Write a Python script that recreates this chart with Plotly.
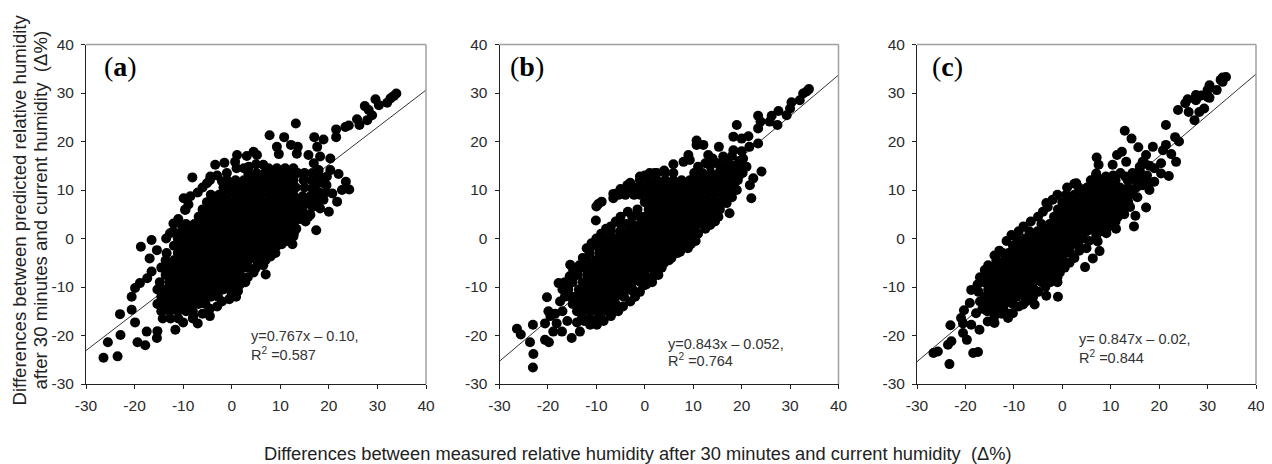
import plotly.graph_objects as go

line_x = [-30, 40]
a_line_y = [-23.1, 30.6]
b_line_y = [-25.3, 33.7]
c_line_y = [-25.4, 33.9]

tick_x = [-30, -20, -10, 0, 10, 20, 30, 40]
tick_y = [-30, -20, -10, 0, 10, 20, 30, 40]
tick_labels = ["-30", "-20", "-10", "0", "10", "20", "30", "40"]
panel_labels = ["(<b>a</b>)", "(<b>b</b>)", "(<b>c</b>)"]
eq1 = ["y=0.767x \u2013 0.10,", "y=0.843x \u2013 0.052,", "y= 0.847x \u2013 0.02,"]
eq2 = ["R<sup>2</sup> =0.587", "R<sup>2</sup> =0.764", "R<sup>2</sup> =0.844"]

# dense core of each cloud, read row by row
a_core_y = [14.5,13.5,12,10.5,9,7.5,6,4.5,3,1.5,0,-1.5,-3,-4.5,-6,-7.5,-9,-10.5,-12,-13.5,-15,-16.5]
a_core_x = [
 [7.6,9.3,11,12.7],
 [3.4,5.1,6.8,8.5,10.2,11.9,13.6],
 [-0.9,0.8,2.5,4.2,5.9,7.6,9.3,11,12.7],
 [-1.7,0,1.7,3.4,5.1,6.8,8.5,10.2,11.9,13.2],
 [-4.3,-2.6,-0.9,0.8,2.5,4.2,5.9,7.6,9.3,11,12.7],
 [-5.1,-3.4,-1.7,0,1.7,3.4,5.1,6.8,8.5,10.2,11.9,13.6],
 [-6,-4.3,-2.6,-0.9,0.8,2.5,4.2,5.9,7.6,9.3,11,12.7,14],
 [-6.8,-5.1,-3.4,-1.7,0,1.7,3.4,5.1,6.8,8.5,10.2,11.9,13.2],
 [-9.4,-7.7,-6,-4.3,-2.6,-0.9,0.8,2.5,4.2,5.9,7.6,9.3,11,12.7],
 [-10.2,-8.5,-6.8,-5.1,-3.4,-1.7,0,1.7,3.4,5.1,6.8,8.5,10.2,11.9],
 [-11.1,-9.4,-7.7,-6,-4.3,-2.6,-0.9,0.8,2.5,4.2,5.9,7.6,9.3,11],
 [-11.9,-10.2,-8.5,-6.8,-5.1,-3.4,-1.7,0,1.7,3.4,5.1,6.8,8.5],
 [-13.4,-11.1,-9.4,-7.7,-6,-4.3,-2.6,-0.9,0.8,2.5,4.2,5.9,7],
 [-13.6,-11.9,-10.2,-8.5,-6.8,-5.1,-3.4,-1.7,0,1.7,3.4,5.1],
 [-14.5,-12.8,-11.1,-9.4,-7.7,-6,-4.3,-2.6,-0.9,0.8,2.5,3.4],
 [-13.6,-11.9,-10.2,-8.5,-6.8,-5.1,-3.4,-1.7,0,1.7],
 [-14.8,-12.8,-11.1,-9.4,-7.7,-6,-4.3,-2.6,-0.9,0.8],
 [-15.3,-13.6,-11.9,-10.2,-8.5,-6.8,-5.1,-3.4,-1.7,-0.2],
 [-14.5,-12.8,-11.1,-9.4,-7.7,-6,-4.3,-2.8],
 [-15.3,-13.6,-11.9,-10.2,-8.5,-6.8,-5.4],
 [-14.5,-12.8,-11.1,-9.4,-8],
 [-14.2,-12.6,-11],
]
a_edge_x = [-26.4,-23.5,-25.5,-22.9,-23,-19.4,-17.8,-15.4,-17.5,-19.9,-20.6,-20.6,-19.9,-18.9,-17.4,-16.5,-18.7,-16.9,-16.5,-15.4,-12,-12.7,-9.9,-8.1,-9.6,-8.9,-5.1,-3.4,-1.5,-4.4,1.1,0.7,4.5,3.1,5.2,7.8,10.8,9.3,9.7,12.2,13.6,13.2,13.4,17,18.9,17.6,15.8,20.3,18.2,21.5,21.5,23.4,24.1,25.8,26.3,27.4,27.9,28.9,28.2,29.6,30.3,32,32.7,33.9,33.4,22,23.5,24.2,22.7,21.7,20,20.7,18.9,18.2,17.4,15.2,12.7,12.5,7,6.2,8,2.6,0.9,-4.5,-7,-11.6,-15.3,-7.9,19.6,20.3,17.9,16.9,18.9,17.2,15.8,16.9,16.2]
a_edge_y = [-24.6,-24.3,-21.4,-19.9,-15.6,-21.4,-22,-20.5,-19.2,-17.3,-14.7,-12,-10.2,-9.2,-8.2,-6.8,-1.7,-4.1,-0.3,-2.4,3.1,1.1,8.3,12.6,5.9,7,11.4,15.2,15.6,12.8,17.2,15.8,17.9,17,17.2,21.3,20.9,18.9,17.4,19.3,18.9,23.7,17.5,20.9,20.4,18.9,17.2,16.5,16.9,22.5,20.9,23,23.3,24.6,23.4,27.3,24.4,25.4,26.5,28.7,27.5,28,28.9,29.9,29.4,13.3,11.7,10.1,10,7.6,5.5,9.3,8,6.2,1.7,3.5,0.4,-1.2,-7.4,-5,-3.7,-8.9,-12,-16,-17.5,-18.8,-19.1,-16,12.8,14.1,14.1,15.5,11.4,10,7.9,7.3,4.9]
a_rim_x = [15,16.6,18,14.8,16.4,18,19.5,15,16.6,18,14.6,16.2,17.6,19.3,15,16.6,14.8,15.8,14,13.3,12.8,12.5,12.3,11.4,10.3,9.3,9,7.9,7,6.5,5,4.5,3.3,2.8,1.7,1.3,0,-0.5,-2,-3,-4.5,-6,-8,-10,-10.5,-12,-13.5,-11,-9.5,-8.5,-7,-6,-4.5,-3,-2,-1,1,2.5,3.5,5,6.5]
a_rim_y = [13.5,13.5,13,12,12,11.5,11,10.5,10.3,9.5,8.7,8.7,8,9.5,7,6.5,5.3,4.5,4,2,1,3,1,-0.5,-1.2,-1.5,-3,-2.7,-4.4,-5.5,-6,-7,-8,-9,-9.5,-10.8,-11.5,-12.5,-13,-14,-14.5,-15.5,-16.5,-17.3,3,1.5,0,4,6,8.7,9.5,10.5,12,13,11.8,13.5,14.5,14.5,14.8,15.3,15.2]

b_core_y = [15,13.5,12,10.5,9,7.5,6,4.5,3,1.5,0,-1.5,-3,-4.5,-6,-7.5,-9,-10.5,-12,-13.5,-15,-16.5]
b_core_x = [
 [15.5,17,18.7,20],
 [1,2.5,4.2,5.9,10.2,11.9,13.6,15.3,17,18.7,20.2],
 [-1,0.8,2.5,4.2,5.9,7.6,9.3,11,12.7,14.4,16.1,17.8,19.2],
 [-3.4,-1.7,0,1.7,3.4,5.1,6.8,8.5,10.2,11.9,13.6,15.3,17,18],
 [-5.4,-4,-2.2,-0.9,0.8,2.5,4.2,5.9,7.6,9.3,11,12.7,14.4,16.1,17],
 [0,1.7,3.4,5.1,6.8,8.5,10.2,11.9,13.6,15],
 [-1.5,0.8,2.5,4.2,5.9,7.6,9.3,11,12.7,14.4],
 [-2.6,-1,0,1.7,3.4,5.1,6.8,8.5,10.2,11.9,13.6],
 [-5,-3.8,-2.6,-0.9,0.8,2.5,4.2,5.9,7.6,9.3,11,12],
 [-7,-5.1,-3.4,-1.7,0,1.7,3.4,5.1,6.8,8.5,10.2,10.5],
 [-9,-7.7,-6,-4.3,-2.6,-0.9,0.8,2.5,4.2,5.9,7.6,9.3,10],
 [-11,-10.2,-8.5,-6.8,-5.1,-3.4,-1.7,0,1.7,3.4,5.1,6.8,8.5],
 [-11.4,-9.4,-7.7,-6,-4.3,-2.6,-0.9,0.8,2.5,4.2,5.9,6.5],
 [-11.9,-10.2,-8.5,-6.8,-5.1,-3.4,-1.7,0,1.7,3.4,5],
 [-13.4,-12.8,-11.1,-9.4,-7.7,-6,-4.3,-2.6,-0.9,0.8,2.5],
 [-13.9,-11.9,-10.2,-8.5,-6.8,-5.1,-3.4,-1.7,0,1.9],
 [-14.9,-12.8,-11.1,-9.4,-7.7,-6,-4.3,-2.6,-0.9,0],
 [-15.8,-13.6,-11.9,-10.2,-8.5,-6.8,-5.1,-3.4,-2.5],
 [-15.4,-14.5,-12.8,-11.1,-9.4,-7.7,-6,-4.3],
 [-14.9,-13.6,-11.9,-10.2,-8.5,-6.8,-6],
 [-14,-12.8,-11.1,-9.4,-7.7,-7],
 [-13,-11.5,-9.8,-9],
]
b_edge_x = [-23.1,-23,-23.7,-23.1,-26.4,-25.6,-20.6,-19.8,-20.6,-19.9,-20.2,-18.2,-18.9,-17.1,-15.1,-13.4,-11.3,-9.9,-17.8,-15.4,-10.1,-10,-8.9,-9.6,-6.5,-5.8,-3.6,5.9,9,10.7,10.7,12.1,15.3,13.1,8,9.3,19,18.3,20,21.4,21.6,23.4,23.4,23.4,23.9,25.8,26.2,27.4,27.6,29.3,30,30.3,32,32.7,33.9,33.4,24.1,22.4,21.7,22,19,16.9,17.5,15.2,13.5,8.9,7.3,4.5,1.6,-0.2,-2.4,-6.8,21,20.3,18.3,16.2,19]
b_edge_y = [-26.6,-23.8,-21.4,-17.8,-18.6,-19.8,-20.9,-21.4,-17.5,-15,-12.1,-17.5,-19.2,-19.2,-20.5,-19.2,-17.8,-17.8,-9.2,-5.4,3.7,6.6,7.6,7.1,8.3,9.3,11,15.3,17.2,20.2,19.3,19.3,18.9,17.2,15.8,16.2,23.4,21,20.6,21.1,18.9,19.6,22.7,25.3,24.1,24.1,25.3,23.4,26.3,25.4,26.8,28.1,28.5,29.9,30.8,30.3,13.8,12.4,11,8.3,10,7.3,5.2,4.5,2.8,-2,-2.7,-4.4,-8,-9.7,-10.9,-15.4,14.8,16.5,18.2,16.9,12.8]
b_rim_x = [12.5,11,10.5,9.5,7.8,6.8,5.5,4,3.5,2.8,1.5,0.3,-1,-2,-3,-4.5,-5.5,-7,-8.5,-10.5,-12.5,-14,16,18,19.5,18,20,17,13.5,15,11,12.5,14,19.5,18.5,17.5,18,16,15.5,14,13.5,14.5,-12,-12.8,-13.5,-14.8,-15.5,-16.5,-17,-16.5,-17.5,-18.5,-17,-19.5,-16,-11,-10,-9,-8,-7,-6,-5,-3.5,-3,-1,0,2,4,-5,-4,-6.5]
b_rim_y = [2,1,-0.5,-1.2,-1.5,-3,-4,-5,-6,-7.5,-9,-9.5,-11,-12,-13,-14,-15,-16,-17,-17,-17,-17.3,14.5,15,16,17,18,16,15,15.5,14.8,15.5,16.5,13,11.5,10,8.5,7.5,6,5.5,4,3.5,-2,-4,-5.5,-6.5,-7.8,-9,-10.5,-12,-13,-15.5,-15,-16,-17,-1,0,1,2,2.5,3.5,4.5,5.5,11.5,12.8,13,13.5,14,10.2,9.5,9.2]

c_core_y = [12,10.5,9,7.5,6,4.5,3,1.5,0,-1.5,-3,-4.5,-6,-7.5,-9,-10.5,-12,-13.5,-15]
c_core_x = [
 [5.9,7.6,9.3,11],
 [3.4,5.1,6.8,8.5,10.2,11.9,13.6,15.3],
 [0.8,2.5,4.2,5.9,7.6,9.3,11,12.7,14],
 [0,1.7,3.4,5.1,6.8,8.5,10.2,11.9,13.6],
 [-0.9,0.8,2.5,4.2,5.9,7.6,9.3,11,12.7],
 [-1.7,0,1.7,3.4,5.1,6.8,8.5,10.2,11.5],
 [-4.3,-2.6,-0.9,0.8,2.5,4.2,5.9,7.6,9.3,10.2],
 [-6.8,-5.1,-3.4,-1.7,0,1.7,3.4,5.1,6.8],
 [-9.4,-7.7,-6,-4.3,-2.6,-0.9,0.8,2.5,4.2],
 [-10.2,-8.5,-6.8,-5.1,-3.4,-1.7,0,1.7,3.4],
 [-12.3,-11.1,-9.4,-7.7,-6,-4.3,-2.6,-0.9,0.8,1.6],
 [-13.6,-11.9,-10.2,-8.5,-6.8,-5.1,-3.4,-1.7,0],
 [-14.5,-12.8,-11.1,-9.4,-7.7,-6,-4.3,-2.6,-0.9],
 [-15.3,-13.6,-11.9,-10.2,-8.5,-6.8,-5.1,-3.4,-1.7],
 [-16.2,-14.5,-12.8,-11.1,-9.4,-7.7,-6,-4.3],
 [-15.3,-13.6,-11.9,-10.2,-8.5,-6.8,-5.8],
 [-16,-14.5,-12.8,-11.1,-9.4,-7.7],
 [-15.3,-13.6,-11.9,-10.2],
 [-14.5,-12.8,-12],
]
c_edge_x = [-23.3,-26.6,-25.7,-23.6,-22.9,-23.1,-18.4,-17.4,-20.9,-20.3,-19.1,-18.8,-19.7,-20.5,-18.8,-17.1,-20.5,-17.8,-15.4,-14,-11.2,-10.2,-5.7,-0.9,-3.3,-1,-8.1,4.7,7.7,6.3,7.3,9.1,11.1,14.8,15.1,17.3,-3.3,2.9,7,7.1,7.5,10.4,11.3,12.3,13.2,12.9,14.3,15.7,17.3,18.7,20.8,21.4,21.4,23.3,24.1,22.5,23.5,22,20.4,20.4,19,18,23.9,25.4,25.9,26.1,27.3,27.6,27.6,28.7,28.3,29.3,30,30.4,30,30.4,31.9,32.7,33.1,33.8,33.1,16.6,16,15.3,16.6]
c_edge_y = [-25.9,-23.6,-23.3,-21.9,-21.2,-17.9,-23.6,-23.4,-16.4,-14.8,-13.3,-10.6,-20.9,-19.5,-17.8,-18.8,-17.5,-15.4,-17.1,-17.4,-16.4,-15.4,-13.6,-12,-11.8,-9,-13.6,-5.9,-2.6,-4.1,-0.6,1.1,2,2.5,4.7,6.4,7.3,11.4,13.4,16.7,15.2,15.2,17.2,17.9,15.8,22.2,20.6,18.8,17.2,18.9,18.2,19.3,23.4,20.9,20,17.4,15.8,12.9,13.4,15.5,11.7,10,26.5,27.9,28.7,26.1,24.4,29.6,28.5,29.5,26.1,26.8,29.2,31.6,30.6,29,30.6,32.7,32.3,33.3,33.2,15.8,14.8,12.8,11]
c_rim_x = [13.5,15,16.5,14.5,16,17.5,18,19,17,16,18,14.5,15.5,13.5,14,12.8,13,9,10.5,12,7,11,9.5,8,7,5.5,5,3.5,2.5,1.5,0.5,-0.5,-1,-2.5,-3.5,-5,-6,-7.5,-9,-11,-12.5,-14,-15.5,-16.5,-17,-17.3,-17.5,-17,-16,-15.3,-14,-13,-11.5,-10.5,-9,-8,-6.5,-5,-4,-3,-2,-1,1,2.5]
c_rim_y = [12,12,12.5,13.5,14,13,15,14.5,15.5,11,11.5,9.5,8.5,7.5,6.5,5,12.8,12.8,13,13.5,13,3.5,2.5,1.5,0.5,-0.5,-2,-2.5,-4,-5,-6,-7,-8,-9,-10,-11,-12,-13,-14,-15.5,-15.5,-16,-15,-14.5,-13,-11,-9.5,-8,-6.5,-5.5,-3.5,-2.5,-0.5,0.7,1.5,2.5,3.5,4.5,5.5,6.5,8,9,10.5,11.3]

# the page's body adds an 8 px margin, so the figure is 8 px smaller and positions are shifted
OFF = 8
W, H = 1272 - OFF, 464 - OFF
panels = [
    dict(core_y=a_core_y, core_x=a_core_x, ex=a_edge_x + a_rim_x, ey=a_edge_y + a_rim_y, ly=a_line_y, px=(86, 426), lab=-23.0),
    dict(core_y=b_core_y, core_x=b_core_x, ex=b_edge_x + b_rim_x, ey=b_edge_y + b_rim_y, ly=b_line_y, px=(499.5, 838.5), lab=-24.4),
    dict(core_y=c_core_y, core_x=c_core_x, ex=c_edge_x + c_rim_x, ey=c_edge_y + c_rim_y, ly=c_line_y, px=(917, 1256), lab=-23.6),
]
eq_x = [3.6, 4.3, 3.0]
eq_y1 = [-20.2, -21.7, -20.8]
eq_y2 = [-23.8, -25.0, -24.4]
TOP, BOTTOM = 44.5 - OFF, 384 - OFF

FONT = "Liberation Sans"
fig = go.Figure()
layout = dict(
    width=W, height=H, margin=dict(l=0, r=0, t=0, b=0, pad=0, autoexpand=False),
    paper_bgcolor="white", plot_bgcolor="white", showlegend=False,
    font=dict(family=FONT, color="#2b2b2b", size=15.5),
)
shapes, annots = [], []
for i, p in enumerate(panels):
    n = "" if i == 0 else str(i + 1)
    xa, ya = "xaxis" + n, "yaxis" + n
    common = dict(range=[-30, 40], ticktext=tick_labels, ticks="outside", ticklen=4, tickwidth=1,
                  tickcolor="#222", showline=True, linecolor="#222", linewidth=1, showgrid=False,
                  zeroline=False, tickfont=dict(size=15.5), fixedrange=True)
    layout[xa] = dict(domain=[(p["px"][0] - OFF) / W, (p["px"][1] - OFF) / W], anchor="y" + n,
                      tickvals=tick_x, ticklabelstandoff=3, **common)
    layout[ya] = dict(domain=[1 - BOTTOM / H, 1 - TOP / H], anchor="x" + n, tickvals=tick_y,
                      ticklabelstandoff=4, **common)
    xr, yr = "x" + n, "y" + n
    fig.add_trace(go.Scatter(x=line_x, y=p["ly"], mode="lines", xaxis=xr, yaxis=yr,
                             line=dict(color="#333", width=1)))
    cx, cy = [], []
    for yv, xs in zip(p["core_y"], p["core_x"]):
        cx += xs
        cy += [yv] * len(xs)
    fig.add_trace(go.Scatter(x=cx + p["ex"], y=cy + p["ey"], mode="markers", xaxis=xr, yaxis=yr,
                             marker=dict(color="black", size=10, line=dict(width=0))))
    for (x0, y0, x1, y1) in [(0, 1, 1, 1), (1, 0, 1, 1)]:
        shapes.append(dict(type="line", xref=xr + " domain", yref=yr + " domain",
                           x0=x0, y0=y0, x1=x1, y1=y1, line=dict(color="#a0a0a0", width=1.5)))
    annots.append(dict(x=p["lab"], y=35.5, xref=xr, yref=yr, text=panel_labels[i], showarrow=False,
                       font=dict(family="Liberation Serif", size=28, color="black")))
    annots.append(dict(x=eq_x[i], y=eq_y1[i], xref=xr, yref=yr, text=eq1[i], showarrow=False,
                       xanchor="left", font=dict(size=14.5, color="#333")))
    annots.append(dict(x=eq_x[i], y=eq_y2[i], xref=xr, yref=yr, text=eq2[i], showarrow=False,
                       xanchor="left", font=dict(size=14.5, color="#333")))

annots.append(dict(x=(637.5 - OFF) / W, y=1 - (453 - OFF) / H, xref="paper", yref="paper", showarrow=False,
                   xanchor="center", yanchor="middle",
                   text="Differences between measured relative humidity after 30 minutes and current humidity  (\u0394%)",
                   font=dict(size=18.3, color="#222")))
for tx, line in [(19.5, "Differences between predicted relative humidity"),
                 (40.5, "after 30 minutes and current humidity  (\u0394%)")]:
    annots.append(dict(x=(tx - OFF) / W, y=1 - (210 - OFF) / H, xref="paper", yref="paper", showarrow=False,
                       textangle=-90, xanchor="center", yanchor="middle", text=line,
                       font=dict(size=18.6, color="#222")))
layout["shapes"] = shapes
layout["annotations"] = annots
fig.update_layout(**layout)
fig.write_html("out.html")
